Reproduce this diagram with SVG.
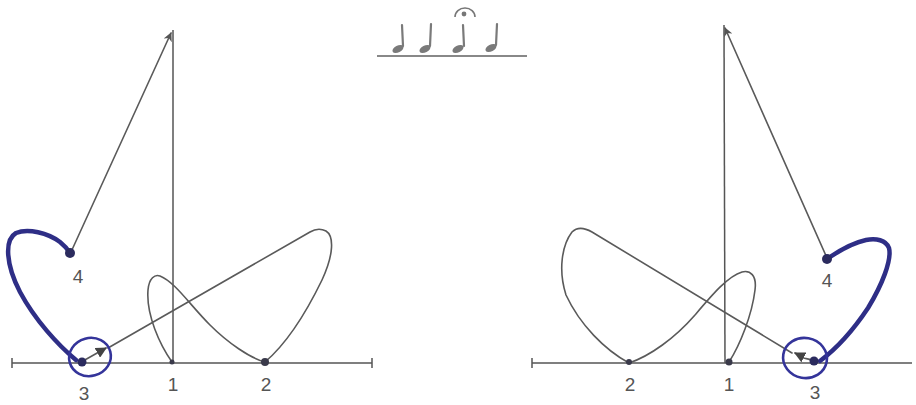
<svg xmlns="http://www.w3.org/2000/svg" width="916" height="405" viewBox="0 0 916 405">
<defs>
<style>
.thin{fill:none;stroke:#5a5a5a;stroke-width:1.6;stroke-linecap:round;stroke-linejoin:round}
.axis{fill:none;stroke:#555;stroke-width:1.5}
.blue{fill:none;stroke:#2e2e86;stroke-width:4.5;stroke-linecap:round}
.ring{fill:none;stroke:#34349a;stroke-width:2.6}
.dot{fill:#3a3a4a}
.bdot{fill:#2b2b5e}
.lbl{font-family:"Liberation Sans",Arial,sans-serif;font-size:19px;fill:#555;text-anchor:middle}
.head{fill:#7a7a7a}
.stem{stroke:#7a7a7a;stroke-width:2.2;stroke-linecap:round}
</style>
<marker id="arr" viewBox="0 0 10 10" refX="9" refY="5" markerWidth="9" markerHeight="9" markerUnits="userSpaceOnUse" orient="auto">
<path d="M0,0 L10,5 L0,10 L3,5 Z" fill="#555"/>
</marker>
<marker id="arrs" viewBox="0 0 10 10" refX="9" refY="5" markerWidth="11" markerHeight="11" markerUnits="userSpaceOnUse" orient="auto">
<path d="M0,0 L10,5 L0,10 Z" fill="#444"/>
</marker>
</defs>

<g id="notation">
<line x1="377" y1="56" x2="527" y2="56" stroke="#888" stroke-width="1.8"/>
<ellipse class="head" cx="398" cy="49" rx="6" ry="3.4" transform="rotate(-28 398 49)"/>
<ellipse class="head" cx="425" cy="49" rx="6" ry="3.4" transform="rotate(-28 425 49)"/>
<ellipse class="head" cx="458" cy="49" rx="6" ry="3.4" transform="rotate(-28 458 49)"/>
<ellipse class="head" cx="491" cy="48" rx="6" ry="3.4" transform="rotate(-28 491 48)"/>
<line class="stem" x1="402" y1="25" x2="403" y2="46"/>
<line class="stem" x1="431" y1="24" x2="430" y2="46"/>
<line class="stem" x1="463" y1="25" x2="464" y2="46"/>
<line class="stem" x1="497" y1="24" x2="496" y2="45"/>
<path d="M455,17 A10,9 0 0 1 475,17" fill="none" stroke="#777" stroke-width="1.6"/>
<circle cx="464" cy="14" r="2.4" fill="#777"/>
</g>

<g id="left-diagram">
<line class="axis" x1="12" y1="363" x2="372" y2="363"/>
<line class="axis" x1="12" y1="358" x2="12" y2="368"/>
<line class="axis" x1="372" y1="358" x2="372" y2="368"/>
<line class="axis" x1="173" y1="30" x2="173" y2="363"/>
</g>

<g id="right-diagram">
<line class="axis" x1="532" y1="363" x2="912" y2="363"/>
<line class="axis" x1="532" y1="358" x2="532" y2="368"/>
<line class="axis" x1="724" y1="25" x2="725" y2="363"/>
</g>

<g id="connectors">
<path class="thin" d="M172,362 C160,345 146,315 148,290 C149,278 155,274 160,276 C175,282 190,305 210,325 C228,343 250,358 265,362 C285,345 305,315 322,280 C334,254 334,236 326,231 C320,228 315,229 310,232 L108,348"/>
<path class="thin" d="M83,361 L106,348" marker-end="url(#arrs)"/>
<path class="thin" d="M71,252 L171,33" marker-end="url(#arr)"/>
<path class="blue" d="M76,360 C58,345 35,320 20,292 C6,265 4,240 16,233 C28,228 48,233 60,242 C65,246 68,250 70,253"/>
<ellipse class="ring" cx="90" cy="357" rx="21" ry="19" transform="rotate(-15 90 357)"/>

<path class="thin" d="M729,362 C740,345 752,315 755,290 C757,275 750,270 742,272 C728,276 712,295 695,315 C675,338 650,356 629,363 C605,350 580,325 566,295 C558,270 562,245 572,232 C578,226 585,228 592,232 L792,353"/>
<path class="thin" d="M812,361 C808,357 805,360 802,357 C800,355 799,355 795,353" marker-end="url(#arrs)"/>
<path class="thin" d="M827,258 L725,28" marker-end="url(#arr)"/>
<path class="blue" d="M820,361 C832,352 850,335 868,308 C882,285 892,260 889,248 C886,240 876,238 866,240 C852,243 840,250 827,259"/>
<ellipse class="ring" cx="805" cy="358" rx="22" ry="20" transform="rotate(10 805 358)"/>
</g>

<g id="p1-left"><circle class="dot" cx="172" cy="362" r="2.5"/><text class="lbl" x="173" y="391">1</text></g>
<g id="p2-left"><circle class="dot" cx="265" cy="362" r="4"/><text class="lbl" x="266" y="391">2</text></g>
<g id="p3-left"><circle class="bdot" cx="82" cy="362" r="4.5"/><text class="lbl" x="84" y="400">3</text></g>
<g id="p4-left"><circle class="bdot" cx="70" cy="253" r="5"/><text class="lbl" x="78" y="283">4</text></g>

<g id="p1-right"><circle class="dot" cx="729" cy="362" r="3.5"/><text class="lbl" x="729" y="391">1</text></g>
<g id="p2-right"><circle class="dot" cx="629" cy="362" r="3"/><text class="lbl" x="630" y="391">2</text></g>
<g id="p3-right"><circle class="bdot" cx="814" cy="361" r="4.5"/><text class="lbl" x="815" y="399">3</text></g>
<g id="p4-right"><circle class="bdot" cx="827" cy="259" r="5"/><text class="lbl" x="827" y="287">4</text></g>
</svg>
